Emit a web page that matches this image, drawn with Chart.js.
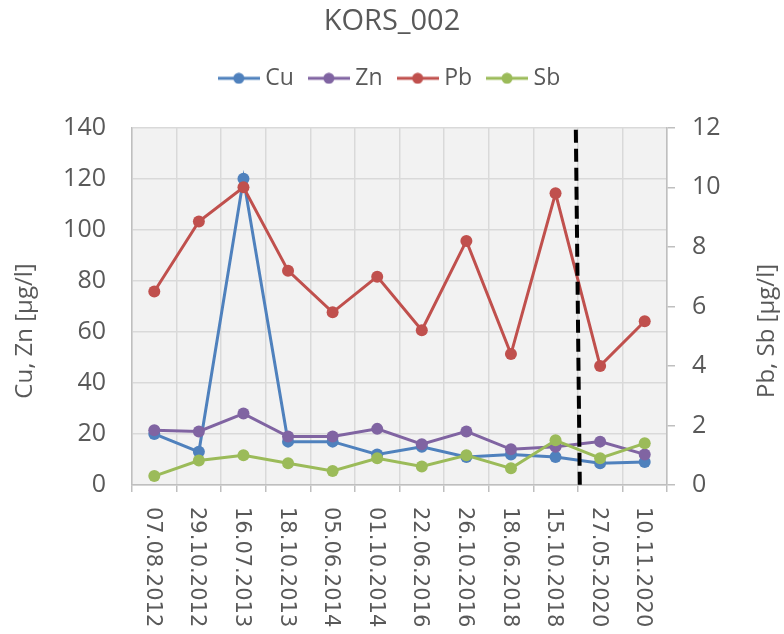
<!DOCTYPE html>
<html>
<head>
<meta charset="utf-8">
<script src="https://cdn.jsdelivr.net/npm/chart.js@4.4.1/dist/chart.umd.min.js"></script>
<style>
    html, body { margin: 0; padding: 0; background: #ffffff; }
    #chart { display: block; }
</style>
</head>
<body>
<canvas id="chart" width="784" height="634"></canvas>
<script>
const dates = ["07.08.2012", "29.10.2012", "16.07.2013", "18.10.2013", "05.06.2014", "01.10.2014",
    "22.06.2016", "26.10.2016", "18.06.2018", "15.10.2018", "27.05.2020", "10.11.2020"];
const cuValues = [20, 13, 120, 17, 17, 12, 15, 11, 12, 11, 8.5, 9];
const znValues = [21.5, 21, 28, 19, 19, 22, 16, 21, 14, 15, 17, 12];
const pbValues = [6.5, 8.85, 10, 7.2, 5.8, 7.0, 5.2, 8.2, 4.4, 9.8, 4.0, 5.5];
const sbValues = [0.3, 0.82, 1.0, 0.73, 0.47, 0.9, 0.62, 1.0, 0.56, 1.5, 0.9, 1.4];
const leftTicks = { min: 0, max: 140, step: 20 };
const rightTicks = { min: 0, max: 12, step: 2 };
const dividerAfter = "15.10.2018";

const textColor = "#595959";
Chart.defaults.font.family = "'Open Sans', sans-serif";
Chart.defaults.color = textColor;

// legend icon: short line with a dot, like the excel legend
const legendIcon = (color) => {
    const c = document.createElement("canvas");
    c.width = 42;
    c.height = 12;
    const g = c.getContext("2d");
    g.strokeStyle = color;
    g.lineWidth = 3;
    g.beginPath();
    g.moveTo(0, 6);
    g.lineTo(42, 6);
    g.stroke();
    g.fillStyle = color;
    g.beginPath();
    g.arc(21, 6, 5.5, 0, Math.PI * 2);
    g.fill();
    return c;
};

const series = (label, data, color, axis, order) => ({
    label,
    data,
    yAxisID: axis,
    order,
    borderColor: color,
    backgroundColor: color,
    borderWidth: 3,
    pointRadius: 6,
    pointHoverRadius: 6,
    pointBorderWidth: 0,
    tension: 0
});

const plotBackground = {
    id: "plotBackground",
    beforeDraw(chart) {
        const { ctx, chartArea } = chart;
        ctx.save();
        ctx.fillStyle = "#f2f2f2";
        ctx.fillRect(chartArea.left, chartArea.top, chartArea.right - chartArea.left, chartArea.bottom - chartArea.top);
        ctx.restore();
    }
};

const extras = {
    id: "extras",
    afterDatasetsDraw(chart) {
        const { ctx, chartArea, scales } = chart;
        const x = scales.x;
        const idx = dates.indexOf(dividerAfter);
        const px = (x.getPixelForTick(idx) + x.getPixelForTick(idx + 1)) / 2;
        ctx.save();
        ctx.strokeStyle = "#000000";
        ctx.lineWidth = 4;
        ctx.setLineDash([13, 6]);
        ctx.beginPath();
        ctx.moveTo(px - 2, chartArea.top + 2);
        ctx.lineTo(px + 2, chartArea.bottom + 2);
        ctx.stroke();
        ctx.restore();
    },
    afterDraw(chart) {
        const { ctx, scales } = chart;
        const x = scales.x;
        ctx.save();
        ctx.fillStyle = textColor;
        // category labels, turned clockwise
        ctx.font = "21px 'DejaVu Sans'";
        ctx.textAlign = "left";
        ctx.textBaseline = "middle";
        dates.forEach((d, i) => {
            ctx.save();
            ctx.translate(x.getPixelForTick(i) - 2, x.top + 22);
            ctx.rotate(Math.PI / 2);
            ctx.fillText(d, 0, 0);
            ctx.restore();
        });
        // axis titles, both reading upwards
        ctx.font = "24px 'Open Sans'";
        ctx.textAlign = "center";
        ctx.textBaseline = "alphabetic";
        [["Cu, Zn [µg/l]", 32], ["Pb, Sb [µg/l]", 774]].forEach(([t, bx]) => {
            ctx.save();
            ctx.translate(bx, 331);
            ctx.rotate(-Math.PI / 2);
            ctx.fillText(t, 0, 0);
            ctx.restore();
        });
        ctx.restore();
    }
};

new Chart(document.getElementById("chart"), {
    type: "line",
    data: {
        labels: dates,
        datasets: [
            series("Cu", cuValues, "#4f81bd", "y", 4),
            series("Zn", znValues, "#8064a2", "y", 3),
            series("Pb", pbValues, "#c0504d", "y1", 2),
            series("Sb", sbValues, "#9bbb59", "y1", 1)
        ]
    },
    options: {
        responsive: false,
        animation: false,
        layout: { padding: 0 },
        plugins: {
            title: {
                display: true,
                text: "KORS_002",
                color: textColor,
                font: { size: 29, weight: "normal" },
                padding: { top: 4, bottom: 8 }
            },
            legend: {
                display: true,
                position: "top",
                labels: {
                    color: textColor,
                    font: { size: 23 },
                    padding: 20,
                    usePointStyle: true,
                    pointStyleWidth: 30,
                    generateLabels: (chart) => chart.data.datasets.map((ds, i) => ({
                        text: ds.label,
                        fillStyle: ds.borderColor,
                        strokeStyle: ds.borderColor,
                        lineWidth: 0,
                        pointStyle: legendIcon(ds.borderColor),
                        hidden: false,
                        datasetIndex: i,
                        fontColor: textColor
                    }))
                }
            },
            // spacer between legend and plot
            subtitle: {
                display: true,
                text: "",
                weight: 500,
                font: { size: 10 },
                padding: { top: 0, bottom: 16 }
            },
            tooltip: { enabled: false }
        },
        scales: {
            x: {
                offset: true,
                grid: {
                    offset: true,
                    color: "#d9d9d9",
                    lineWidth: 1.5,
                    drawTicks: true,
                    tickLength: 7,
                    tickColor: "#bfbfbf"
                },
                border: { color: "#bfbfbf", width: 1.5 },
                ticks: { display: false },
                afterFit: (scale) => { scale.height = 149; }
            },
            y: {
                position: "left",
                min: leftTicks.min,
                max: leftTicks.max,
                grid: { color: "#d9d9d9", lineWidth: 1.5, drawTicks: false },
                border: { color: "#bfbfbf", width: 1.5 },
                ticks: {
                    stepSize: leftTicks.step,
                    padding: 26,
                    color: textColor,
                    font: { size: 25 }
                },
                afterFit: (scale) => { scale.width = 132; }
            },
            y1: {
                position: "right",
                min: rightTicks.min,
                max: rightTicks.max,
                grid: {
                    drawOnChartArea: false,
                    drawTicks: true,
                    tickLength: 8,
                    color: "#bfbfbf",
                    lineWidth: 1.5
                },
                border: { color: "#bfbfbf", width: 1.5 },
                ticks: {
                    stepSize: rightTicks.step,
                    padding: 17,
                    color: textColor,
                    font: { size: 25 }
                },
                afterFit: (scale) => { scale.width = 117; }
            }
        }
    },
    plugins: [plotBackground, extras]
});
</script>
</body>
</html>
